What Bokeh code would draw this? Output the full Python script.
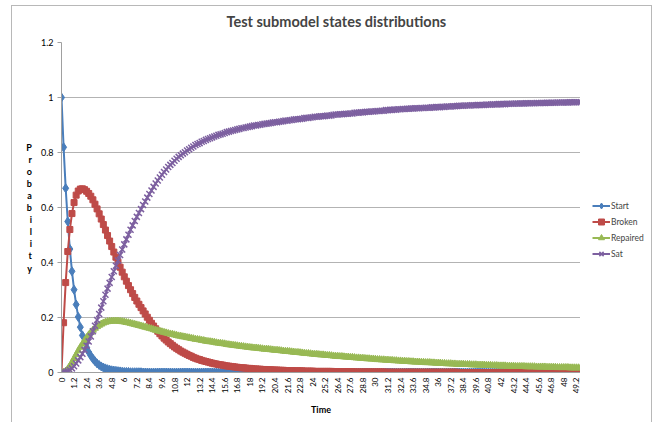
from bokeh.plotting import figure
from bokeh.layouts import row
from bokeh.models import (Range1d, FixedTicker, CustomJSTickFormatter, Legend, LegendItem,
                          InlineStyleSheet)
from bokeh.embed import file_html
from bokeh.resources import INLINE

# ---- data (time steps of 0.2, from 0 to 49.6) ----
tick_labels = ["0", "1.2", "2.4", "3.6", "4.8", "6", "7.2", "8.4", "9.6", "10.8", "12", "13.2",
               "14.4", "15.6", "16.8", "18", "19.2", "20.4", "21.6", "22.8", "24", "25.2", "26.4",
               "27.6", "28.8", "30", "31.2", "32.4", "33.6", "34.8", "36", "37.2", "38.4", "39.6",
               "40.8", "42", "43.2", "44.4", "45.6", "46.8", "48", "49.2"]
y_ticks = [0, 0.2, 0.4, 0.6, 0.8, 1, 1.2]

start = [
    1.000, 0.819, 0.670, 0.549, 0.449, 0.368, 0.301, 0.247, 0.202, 0.165,
    0.135, 0.111, 0.091, 0.074, 0.061, 0.050, 0.041, 0.033, 0.027, 0.022,
    0.018, 0.015, 0.012, 0.010, 0.008, 0.007, 0.006, 0.005, 0.004, 0.003,
    0.002, 0.002, 0.002, 0.001, 0.001, 0.001, 0.001, 0.001, 0.001, 0.000,
    0, 0, 0, 0, 0, 0, 0, 0, 0, 0,
    0, 0, 0, 0, 0, 0, 0, 0, 0, 0,
    0, 0, 0, 0, 0, 0, 0, 0, 0, 0,
    0, 0, 0, 0, 0, 0, 0, 0, 0, 0,
    0, 0, 0, 0, 0, 0, 0, 0, 0, 0,
    0, 0, 0, 0, 0, 0, 0, 0, 0, 0,
    0, 0, 0, 0, 0, 0, 0, 0, 0, 0,
    0, 0, 0, 0, 0, 0, 0, 0, 0, 0,
    0, 0, 0, 0, 0, 0, 0, 0, 0, 0,
    0, 0, 0, 0, 0, 0, 0, 0, 0, 0,
    0, 0, 0, 0, 0, 0, 0, 0, 0, 0,
    0, 0, 0, 0, 0, 0, 0, 0, 0, 0,
    0, 0, 0, 0, 0, 0, 0, 0, 0, 0,
    0, 0, 0, 0, 0, 0, 0, 0, 0, 0,
    0, 0, 0, 0, 0, 0, 0, 0, 0, 0,
    0, 0, 0, 0, 0, 0, 0, 0, 0, 0,
    0, 0, 0, 0, 0, 0, 0, 0, 0, 0,
    0, 0, 0, 0, 0, 0, 0, 0, 0, 0,
    0, 0, 0, 0, 0, 0, 0, 0, 0, 0,
    0, 0, 0, 0, 0, 0, 0, 0, 0, 0,
    0, 0, 0, 0, 0, 0, 0, 0, 0,
]

broken = [
    0.000, 0.181, 0.327, 0.440, 0.520, 0.578, 0.618, 0.645, 0.660, 0.667,
    0.668, 0.665, 0.659, 0.651, 0.641, 0.628, 0.612, 0.595, 0.577, 0.558,
    0.538, 0.518, 0.498, 0.478, 0.458, 0.438, 0.419, 0.401, 0.383, 0.365,
    0.348, 0.332, 0.316, 0.301, 0.287, 0.273, 0.260, 0.248, 0.236, 0.224,
    0.213, 0.201, 0.190, 0.179, 0.169, 0.159, 0.150, 0.141, 0.133, 0.125,
    0.118, 0.111, 0.105, 0.099, 0.093, 0.088, 0.083, 0.078, 0.074, 0.070,
    0.066, 0.062, 0.059, 0.055, 0.052, 0.049, 0.047, 0.044, 0.042, 0.040,
    0.038, 0.036, 0.034, 0.032, 0.031, 0.029, 0.028, 0.027, 0.025, 0.024,
    0.023, 0.022, 0.021, 0.020, 0.019, 0.018, 0.017, 0.017, 0.016, 0.015,
    0.015, 0.014, 0.013, 0.013, 0.012, 0.012, 0.011, 0.011, 0.010, 0.010,
    0.010, 0.009, 0.009, 0.009, 0.008, 0.008, 0.008, 0.007, 0.007, 0.007,
    0.007, 0.006, 0.006, 0.006, 0.006, 0.006, 0.005, 0.005, 0.005, 0.005,
    0.005, 0.004, 0.004, 0.004, 0.004, 0.004, 0.004, 0.004, 0.004, 0.004,
    0.003, 0.003, 0.003, 0.003, 0.003, 0.003, 0.003, 0.003, 0.003, 0.003,
    0.002, 0.002, 0.002, 0.002, 0.002, 0.002, 0.002, 0.002, 0.002, 0.002,
    0.002, 0.002, 0.002, 0.002, 0.002, 0.001, 0.001, 0.001, 0.001, 0.001,
    0.001, 0.001, 0.001, 0.001, 0.001, 0.001, 0.001, 0.001, 0.001, 0.001,
    0.001, 0.001, 0.001, 0.001, 0.001, 0.001, 0.001, 0.001, 0.001, 0.001,
    0.001, 0.001, 0.001, 0.001, 0.001, 0.001, 0.001, 0.001, 0.001, 0.001,
    0, 0, 0, 0, 0, 0, 0, 0, 0, 0,
    0, 0, 0, 0, 0, 0, 0, 0, 0, 0,
    0, 0, 0, 0, 0, 0, 0, 0, 0, 0,
    0, 0, 0, 0, 0, 0, 0, 0, 0, 0,
    0, 0, 0, 0, 0, 0, 0, 0, 0, 0,
    0, 0, 0, 0, 0, 0, 0, 0, 0,
]

repaired = [
    0.000, 0.001, 0.005, 0.013, 0.024, 0.037, 0.051, 0.065, 0.079, 0.092,
    0.104, 0.116, 0.127, 0.137, 0.146, 0.154, 0.161, 0.167, 0.172, 0.176,
    0.180, 0.183, 0.185, 0.186, 0.187, 0.187, 0.187, 0.187, 0.186, 0.185,
    0.184, 0.182, 0.181, 0.179, 0.177, 0.175, 0.173, 0.171, 0.169, 0.167,
    0.165, 0.163, 0.161, 0.159, 0.156, 0.154, 0.152, 0.150, 0.148, 0.146,
    0.144, 0.142, 0.140, 0.139, 0.137, 0.135, 0.133, 0.132, 0.130, 0.129,
    0.127, 0.126, 0.124, 0.123, 0.121, 0.120, 0.119, 0.117, 0.116, 0.114,
    0.113, 0.112, 0.111, 0.110, 0.108, 0.107, 0.106, 0.105, 0.104, 0.102,
    0.101, 0.100, 0.099, 0.098, 0.097, 0.096, 0.095, 0.094, 0.093, 0.092,
    0.091, 0.090, 0.089, 0.089, 0.088, 0.087, 0.086, 0.085, 0.085, 0.084,
    0.083, 0.082, 0.081, 0.081, 0.080, 0.079, 0.078, 0.077, 0.077, 0.076,
    0.075, 0.074, 0.073, 0.073, 0.072, 0.071, 0.070, 0.069, 0.069, 0.068,
    0.067, 0.066, 0.066, 0.065, 0.064, 0.064, 0.063, 0.062, 0.062, 0.061,
    0.060, 0.059, 0.059, 0.058, 0.058, 0.057, 0.056, 0.056, 0.055, 0.055,
    0.054, 0.053, 0.053, 0.052, 0.052, 0.051, 0.050, 0.050, 0.049, 0.049,
    0.048, 0.047, 0.047, 0.046, 0.046, 0.045, 0.045, 0.044, 0.044, 0.043,
    0.043, 0.042, 0.042, 0.041, 0.041, 0.040, 0.040, 0.039, 0.039, 0.038,
    0.038, 0.038, 0.037, 0.037, 0.036, 0.036, 0.036, 0.035, 0.035, 0.034,
    0.034, 0.034, 0.033, 0.033, 0.032, 0.032, 0.032, 0.031, 0.031, 0.030,
    0.030, 0.030, 0.030, 0.029, 0.029, 0.029, 0.028, 0.028, 0.028, 0.027,
    0.027, 0.027, 0.027, 0.026, 0.026, 0.026, 0.025, 0.025, 0.025, 0.024,
    0.024, 0.024, 0.024, 0.023, 0.023, 0.023, 0.023, 0.022, 0.022, 0.022,
    0.022, 0.022, 0.021, 0.021, 0.021, 0.021, 0.021, 0.020, 0.020, 0.020,
    0.020, 0.020, 0.019, 0.019, 0.019, 0.019, 0.019, 0.018, 0.018, 0.018,
    0.018, 0.018, 0.018, 0.017, 0.017, 0.017, 0.017, 0.017, 0.017,
]

sat = [
    0.000, 0.000, 0.002, 0.005, 0.009, 0.015, 0.023, 0.033, 0.044, 0.056,
    0.068, 0.082, 0.097, 0.113, 0.131, 0.150, 0.170, 0.191, 0.213, 0.236,
    0.259, 0.283, 0.305, 0.326, 0.347, 0.368, 0.388, 0.407, 0.427, 0.447,
    0.466, 0.484, 0.501, 0.519, 0.535, 0.551, 0.566, 0.580, 0.594, 0.609,
    0.622, 0.636, 0.649, 0.662, 0.675, 0.687, 0.698, 0.709, 0.719, 0.729,
    0.738, 0.747, 0.755, 0.762, 0.770, 0.777, 0.784, 0.790, 0.796, 0.801,
    0.807, 0.812, 0.817, 0.822, 0.827, 0.831, 0.834, 0.839, 0.842, 0.846,
    0.849, 0.852, 0.855, 0.858, 0.861, 0.864, 0.866, 0.868, 0.871, 0.874,
    0.876, 0.878, 0.880, 0.882, 0.884, 0.886, 0.888, 0.889, 0.891, 0.893,
    0.894, 0.896, 0.898, 0.898, 0.900, 0.901, 0.903, 0.904, 0.905, 0.906,
    0.907, 0.909, 0.910, 0.910, 0.912, 0.913, 0.914, 0.916, 0.916, 0.917,
    0.918, 0.920, 0.921, 0.921, 0.922, 0.923, 0.925, 0.926, 0.926, 0.927,
    0.928, 0.930, 0.930, 0.931, 0.932, 0.932, 0.933, 0.934, 0.934, 0.935,
    0.937, 0.938, 0.938, 0.939, 0.939, 0.940, 0.941, 0.941, 0.942, 0.942,
    0.944, 0.945, 0.945, 0.946, 0.946, 0.947, 0.948, 0.948, 0.949, 0.949,
    0.950, 0.951, 0.951, 0.952, 0.952, 0.954, 0.954, 0.955, 0.955, 0.956,
    0.956, 0.957, 0.957, 0.958, 0.958, 0.959, 0.959, 0.960, 0.960, 0.961,
    0.961, 0.961, 0.962, 0.962, 0.963, 0.963, 0.963, 0.964, 0.964, 0.965,
    0.965, 0.965, 0.966, 0.966, 0.967, 0.967, 0.967, 0.968, 0.968, 0.969,
    0.970, 0.970, 0.970, 0.971, 0.971, 0.971, 0.972, 0.972, 0.972, 0.973,
    0.973, 0.973, 0.973, 0.974, 0.974, 0.974, 0.975, 0.975, 0.975, 0.976,
    0.976, 0.976, 0.976, 0.977, 0.977, 0.977, 0.977, 0.978, 0.978, 0.978,
    0.978, 0.978, 0.979, 0.979, 0.979, 0.979, 0.979, 0.980, 0.980, 0.980,
    0.980, 0.980, 0.981, 0.981, 0.981, 0.981, 0.981, 0.982, 0.982, 0.982,
    0.982, 0.982, 0.982, 0.983, 0.983, 0.983, 0.983, 0.983, 0.983,
]

series_names = ["Start", "Broken", "Repaired", "Sat"]
series_values = [start, broken, repaired, sat]
series_colors = ["#4A7EBB", "#BE4B48", "#98B954", "#7D60A0"]
series_markers = ["diamond", "square", "triangle", "x"]
series_sizes = [9, 6, 7, 8.5]
series_mlw = [1, 1, 1, 1.5]

FONT = "Lato"
GRID = "#b3b3b3"
AXIS = "#a0a0a0"

n = len(start)
label_step = 6  # one label every 6 time steps
xs = list(range(n))

# ---------- main chart ----------
p = figure(width=580, height=422, output_backend="svg", toolbar_location=None,
           x_range=Range1d(0, n - 1), y_range=Range1d(0, 1.2),
           min_border_left=61, min_border_right=0, min_border_top=42, min_border_bottom=50)
p.outline_line_color = None
p.background_fill_color = "white"
p.border_fill_color = "white"

p.title.text = "Test submodel states distributions"
p.title.align = "left"
p.title.offset = 165
p.title.vertical_align = "top"
p.title.text_font = FONT
p.title.text_font_style = "bold"
p.title.text_font_size = "14.5px"
p.title.standoff = 22

p.yaxis.ticker = FixedTicker(ticks=y_ticks)
p.yaxis.formatter = CustomJSTickFormatter(code="return String(tick);")
p.xaxis.ticker = FixedTicker(ticks=[label_step * k for k in range(len(tick_labels))])
p.xaxis.formatter = CustomJSTickFormatter(args=dict(labels=tick_labels, step=label_step),
                                          code="return labels[Math.round(tick / step)] || '';")
p.xaxis.major_label_orientation = 1.5708
for ax in (p.xaxis[0], p.yaxis[0]):
    ax.axis_line_color = AXIS
    ax.major_tick_line_color = AXIS
    ax.minor_tick_line_color = None
    ax.major_tick_in = 0
    ax.major_label_text_font = FONT
    ax.major_label_text_color = "black"
    ax.axis_label_text_font = FONT
    ax.axis_label_text_font_style = "bold"
    ax.axis_label_text_font_size = "9px"
    ax.axis_label_text_color = "black"
p.yaxis.major_tick_out = 4
p.yaxis.major_label_standoff = 4
p.yaxis.major_label_text_font_size = "9px"
p.yaxis.axis_label = "P\nr\no\nb\na\nb\ni\nl\ni\nt\ny"
p.yaxis.axis_label_orientation = "horizontal"
p.yaxis.axis_label_standoff = 6
p.yaxis.axis_label_text_line_height = 1.1
p.xaxis.major_tick_out = 0
p.xaxis.major_label_standoff = 5
p.xaxis.major_label_text_font_size = "8px"
p.xaxis.axis_label = "Time"
p.xaxis.axis_label_standoff = 8

p.xgrid.grid_line_color = None
p.ygrid.grid_line_color = GRID
p.ygrid.ticker = FixedTicker(ticks=y_ticks)

for vals, col, mk, sz, mlw in zip(series_values, series_colors, series_markers,
                                  series_sizes, series_mlw):
    p.line(xs, vals, line_color=col, line_width=2)
    p.scatter(xs, vals, marker=mk, size=sz, fill_color=col, line_color=col, line_width=mlw)

# ---------- legend panel (right of the plot area) ----------
# the same series are drawn here outside the visible range, only to feed the legend
q = figure(width=78, height=422, output_backend="svg", toolbar_location=None,
           x_axis_type=None, y_axis_type=None, x_range=Range1d(-3, -2), y_range=Range1d(0, 1),
           min_border_left=0, min_border_right=0, min_border_top=0, min_border_bottom=0)
q.outline_line_color = None
q.xgrid.grid_line_color = None
q.ygrid.grid_line_color = None
q.background_fill_color = "white"
q.border_fill_color = "white"

items = []
for name, vals, col, mk, sz, mlw in zip(series_names, series_values, series_colors,
                                        series_markers, series_sizes, series_mlw):
    lr = q.line(xs, vals, line_color=col, line_width=2)
    sr = q.scatter(xs, vals, marker=mk, size=min(sz, 7), fill_color=col, line_color=col,
                   line_width=mlw)
    items.append(LegendItem(label=name, renderers=[lr, sr]))

legend = Legend(items=items, location=(12, 111), padding=0, margin=0, spacing=1,
                glyph_height=15, label_height=15, glyph_width=18, label_standoff=1,
                label_text_font=FONT, label_text_font_size="8.5px",
                background_fill_alpha=0, border_line_alpha=0)
q.add_layout(legend)

layout = row(p, q)
layout.stylesheets = [InlineStyleSheet(css="""
:host::after {
  content: ""; position: absolute; left: 11px; top: 5px; width: 639px; height: 417px;
  border-left: 1px solid #b8b8b8; border-top: 1px solid #b8b8b8; border-right: 1px solid #b8b8b8;
  pointer-events: none;
}
""")]

open("out.html", "w").write(file_html(layout, INLINE))
